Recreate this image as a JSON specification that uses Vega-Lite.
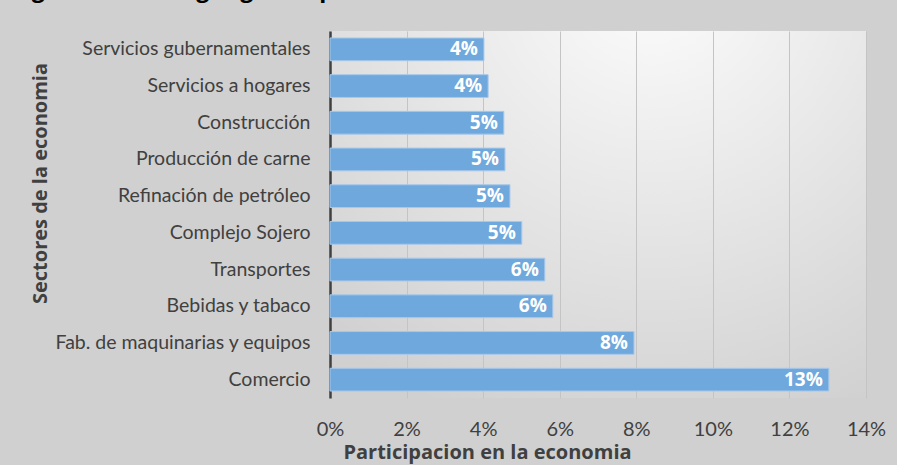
{
  "$schema": "https://vega.github.io/schema/vega-lite/v6.json",
  "width": 536,
  "height": 367,
  "autosize": {"type": "none"},
  "padding": {"left": 330, "top": 31, "right": 31, "bottom": 67},
  "background": "#d0d0d0",
  "title": {
    "text": "Figura 4: Ranking según importancia económica",
    "anchor": "start",
    "frame": "bounds",
    "orient": "top",
    "baseline": "alphabetic",
    "offset": 11,
    "dx": -18,
    "font": "Open Sans",
    "fontSize": 23,
    "fontWeight": "bold",
    "color": "#000000"
  },
  "config": {
    "view": {
      "stroke": null,
      "fill": {
        "gradient": "radial",
        "x1": 0.6, "y1": 0.05, "x2": 0.6, "y2": 0.05,
        "r1": 0, "r2": 0.9,
        "stops": [
          {"offset": 0, "color": "#fdfdfd"},
          {"offset": 1, "color": "#d0d0d0"}
        ]
      }
    }
  },
  "data": {
    "values": [
      {"sector": "Servicios gubernamentales", "share": 0.0402},
      {"sector": "Servicios a hogares", "share": 0.0413},
      {"sector": "Construcción", "share": 0.0454},
      {"sector": "Producción de carne", "share": 0.0457},
      {"sector": "Refinación de petróleo", "share": 0.0470},
      {"sector": "Complejo Sojero", "share": 0.0501},
      {"sector": "Transportes", "share": 0.0561},
      {"sector": "Bebidas y tabaco", "share": 0.0582},
      {"sector": "Fab. de maquinarias y equipos", "share": 0.0794},
      {"sector": "Comercio", "share": 0.1303}
    ]
  },
  "encoding": {
    "y": {
      "field": "sector",
      "type": "nominal",
      "sort": null,
      "scale": {"paddingInner": 0.38, "paddingOuter": 0.19},
      "axis": {
        "title": "Sectores de la economia",
        "domain": true,
        "domainColor": "#404040",
        "domainWidth": 2.5,
        "ticks": false,
        "labelPadding": 20,
        "labelLimit": 400,
        "labelFont": "Lato",
        "labelFontSize": 19.5,
        "labelColor": "#404040",
        "titleFont": "Open Sans",
        "titleFontSize": 20,
        "titleFontWeight": "bold",
        "titleColor": "#404040",
        "titleAngle": -90,
        "titleX": -290,
        "titleY": 152,
        "titleAlign": "center",
        "titleBaseline": "middle"
      }
    },
    "x": {
      "field": "share",
      "type": "quantitative",
      "scale": {"domain": [0, 0.14], "nice": false},
      "axis": {
        "title": "Participacion en la economia",
        "values": [0, 0.02, 0.04, 0.06, 0.08, 0.1, 0.12, 0.14],
        "format": ".0%",
        "grid": true,
        "gridColor": "#c4c4c4",
        "gridWidth": 1,
        "domain": false,
        "ticks": false,
        "labelFlush": false,
        "labelPadding": 21,
        "labelFont": "Lato",
        "labelFontSize": 20,
        "labelColor": "#404040",
        "titleFont": "Open Sans",
        "titleFontSize": 20,
        "titleFontWeight": "bold",
        "titleColor": "#404040",
        "titleX": 157,
        "titleY": 54,
        "titleAlign": "center",
        "titleBaseline": "middle"
      }
    }
  },
  "layer": [
    {
      "mark": {"type": "bar", "color": "#6fa8dc", "stroke": "#a8c8ea", "strokeWidth": 1}
    },
    {
      "mark": {
        "type": "text",
        "align": "right",
        "baseline": "middle",
        "dx": -6,
        "color": "#ffffff",
        "font": "Open Sans",
        "fontSize": 19,
        "fontWeight": "bold"
      },
      "encoding": {
        "text": {"field": "share", "type": "quantitative", "format": ".0%"}
      }
    }
  ]
}
